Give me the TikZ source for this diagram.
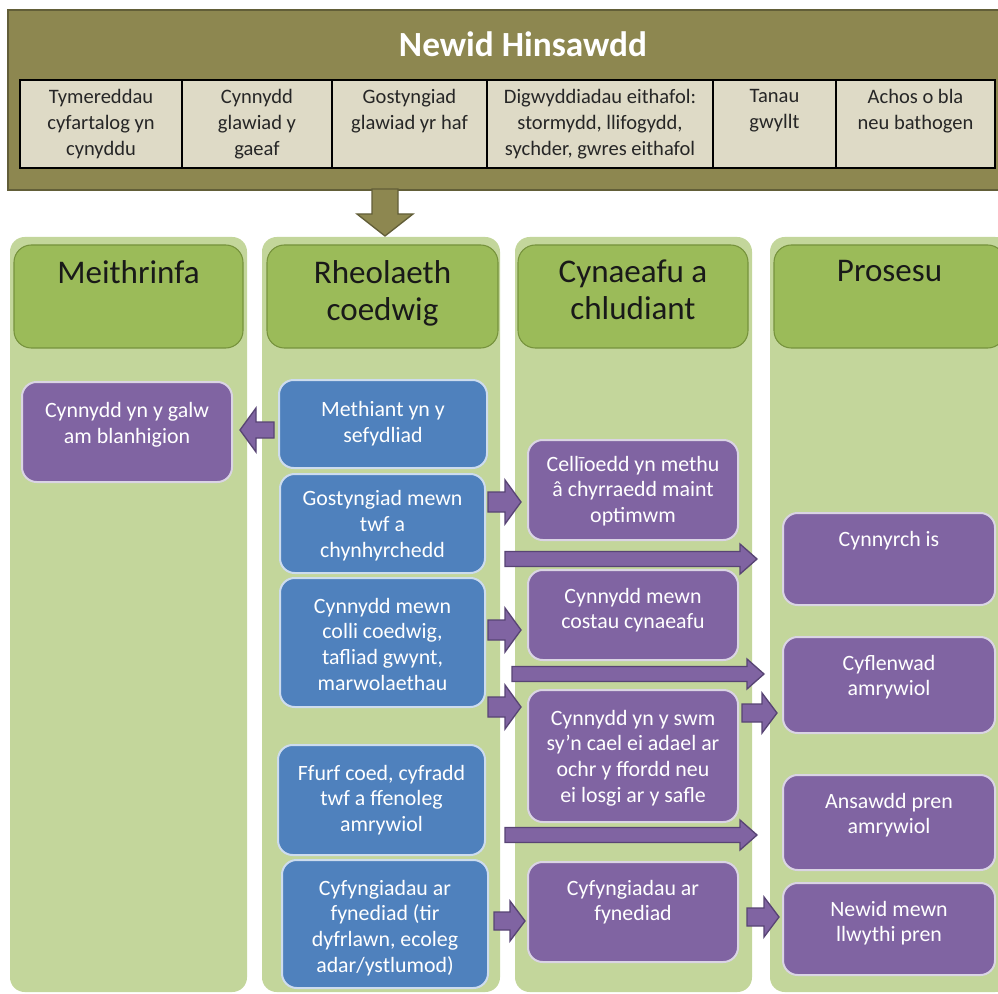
\documentclass[tikz,border=0pt]{standalone}
\usepackage{fontspec}
\setmainfont{Carlito}
\usepackage{xcolor}
\usepackage{tikz}
\usetikzlibrary{positioning,calc}

\definecolor{climateolive}{RGB}{141,135,80}
\definecolor{oliveedge}{RGB}{98,94,56}
\definecolor{cellbg}{RGB}{222,218,198}
\definecolor{lanebg}{RGB}{195,214,155}
\definecolor{headgreen}{RGB}{155,187,89}
\definecolor{headedge}{RGB}{118,146,60}
\definecolor{bluefill}{RGB}{79,129,189}
\definecolor{blueedge}{RGB}{205,220,238}
\definecolor{purplefill}{RGB}{128,100,162}
\definecolor{purpleedge}{RGB}{218,212,228}
\definecolor{arrowedge}{RGB}{88,68,116}

\newcommand{\cellfont}{\fontsize{15.4}{19.3}\selectfont}
\newcommand{\innerfont}{\fontsize{16.4}{19.3}\selectfont}
\newcommand{\lanefont}{\fontsize{24.8}{27.75}\selectfont}
\newcommand{\bannerfont}{\fontsize{26.5}{30}\selectfont\bfseries}

\begin{document}
\begin{tikzpicture}[x=0.75pt,y=0.75pt,yscale=-1,xscale=1,
  cellbox/.style={draw=black, line width=1.4pt, fill=cellbg, inner sep=0pt, minimum height=66pt},
  celltext/.style={inner sep=0pt, align=center, font=\cellfont, text=black!85},
  lane/.style={fill=lanebg, draw=none, rounded corners=11pt},
  lanehead/.style={fill=headgreen, draw=headedge, line width=0.8pt, rounded corners=13pt, inner sep=0pt, minimum height=77.25pt},
  lanetext/.style={inner sep=0pt, align=center, font=\lanefont, text=black!90},
  bluebox/.style={fill=bluefill, draw=blueedge, line width=1.5pt, rounded corners=11pt, inner sep=0pt},
  purplebox/.style={fill=purplefill, draw=purpleedge, line width=1.5pt, rounded corners=11pt, inner sep=0pt},
  boxtext/.style={inner sep=0pt, align=center, font=\innerfont, text=white},
  fatarrow/.style={fill=purplefill, draw=arrowedge, line width=1pt, line join=miter},
  hfat/.style n args={3}{to path={
    ($(\tikztostart)+(0,#1)$) -- ($(\tikztotarget)+(#3,#1)$) -- ($(\tikztotarget)+(#3,#2)$) -- (\tikztotarget)
    -- ($(\tikztotarget)+(#3,-#2)$) -- ($(\tikztotarget)+(#3,-#1)$) -- ($(\tikztostart)+(0,-#1)$) -- cycle}},
  vfat/.style n args={3}{to path={
    ($(\tikztostart)+(#1,0)$) -- ($(\tikztotarget)+(#1,-#3)$) -- ($(\tikztotarget)+(#2,-#3)$) -- (\tikztotarget)
    -- ($(\tikztotarget)+(-#2,-#3)$) -- ($(\tikztotarget)+(-#1,-#3)$) -- ($(\tikztostart)+(-#1,0)$) -- cycle}}
]
\useasboundingbox (0,0) rectangle (998,994);

%Shape: Rectangle [banner]
\draw [fill=climateolive, draw=oliveedge, line width=1.5pt] (8,10) rectangle (1006,190) ;
% Text Node
\node [text=white, font=\bannerfont, inner sep=0pt] (banner) at (523,44) {Newid Hinsawdd};

%Cells of the banner
\node [cellbox, minimum width=121.5pt] (k1) at (101,124) {};
\node [cellbox, minimum width=112.5pt] (k2) at (257,124) {};
\node [cellbox, minimum width=116.25pt] (k3) at (409.5,124) {};
\node [cellbox, minimum width=169.5pt] (k4) at (600,124) {};
\node [cellbox, minimum width=92.25pt] (k5) at (774.5,124) {};
\node [cellbox, minimum width=119.25pt] (k6) at (915.5,124) {};
% Text Node
\node [celltext, below=7.5pt of k1.north] (k1t) {Tymereddau\\cyfartalog yn\\cynyddu};
\node [celltext, below=7.5pt of k2.north] (k2t) {Cynnydd\\glawiad y\\gaeaf};
\node [celltext, below=7.5pt of k3.north] (k3t) {Gostyngiad\\glawiad yr haf};
\node [celltext, below=7.5pt of k4.north] (k4t) {Digwyddiadau eithafol:\\stormydd, llifogydd,\\sychder, gwres eithafol};
\node [celltext, below=7.5pt of k5.north] (k5t) {Tanau\\gwyllt};
\node [celltext, below=7.5pt of k6.north] (k6t) {Achos o bla\\neu bathogen};

%Down arrow from the banner
\coordinate (dtop) at (385,189);
\coordinate (dtip) at (385,236);
\draw [fill=climateolive, draw=oliveedge, line width=1pt, vfat={13}{28}{22}] (dtop) to (dtip) ;

%Shape: lanes
\draw [lane] (10,237) rectangle (247,992) ;
\draw [lane] (262,237) rectangle (500,992) ;
\draw [lane] (515,237) rectangle (752,992) ;
\draw [lane] (770,237) rectangle (1010,992) ;

%Lane headers
\node [lanehead, minimum width=171.75pt] (nursery) at (128.5,296.5) {};
\node [lanehead, minimum width=173.25pt] (forest) at (382.5,296.5) {};
\node [lanehead, minimum width=172.5pt] (harvest) at (633,296.5) {};
\node [lanehead, minimum width=173.25pt] (process) at (889.5,296.5) {};
% Text Node
\node [lanetext, below=11.5pt of nursery.north] (nurseryt) {Meithrinfa};
\node [lanetext, below=11.5pt of forest.north] (forestt) {Rheolaeth\\coedwig};
\node [lanetext, below=11.5pt of harvest.north] (harvestt) {Cynaeafu a\\chludiant};
\node [lanetext, below=11.5pt of process.north] (processt) {Prosesu};

%Meithrinfa
\node [purplebox, minimum width=157.5pt, minimum height=75pt] (plants) at (127,432) {};
\node [boxtext, below=16pt of plants.north] (plantst) {Cynnydd yn y galw\\am blanhigion};

%Rheolaeth coedwig
\node [bluebox, minimum width=156pt, minimum height=66pt] (fail) at (383,424) {};
\node [bluebox, minimum width=153.75pt, minimum height=74.25pt] (growth) at (382.5,523.5) {};
\node [bluebox, minimum width=153.75pt, minimum height=96.75pt] (loss) at (382.5,642.5) {};
\node [bluebox, minimum width=155.25pt, minimum height=82.5pt] (form) at (381.5,800) {};
\node [bluebox, minimum width=154.5pt, minimum height=96pt] (access) at (385,924) {};
% Text Node
\node [boxtext, below=16.5pt of fail.north] (failt) {Methiant yn y\\sefydliad};
\node [boxtext, below=13pt of growth.north] (growtht) {Gostyngiad mewn\\twf a\\chynhyrchedd};
\node [boxtext, below=15.5pt of loss.north] (losst) {Cynnydd mewn\\colli coedwig,\\tafliad gwynt,\\marwolaethau};
\node [boxtext, below=15.5pt of form.north] (formt) {Ffurf coed, cyfradd\\twf a ffenoleg\\amrywiol};
\node [boxtext, below=15.5pt of access.north] (accesst) {Cyfyngiadau ar\\fynediad (tir\\dyfrlawn, ecoleg\\adar/ystlumod)};

%Cynaeafu a chludiant
\node [purplebox, minimum width=157.5pt, minimum height=75pt] (size) at (633,490) {};
\node [purplebox, minimum width=157.5pt, minimum height=67.5pt] (cost) at (633,615) {};
\node [purplebox, minimum width=157.5pt, minimum height=99pt] (waste) at (633,756) {};
\node [purplebox, minimum width=157.5pt, minimum height=75pt] (reach) at (633,912) {};
% Text Node
\node [boxtext, below=12.5pt of size.north] (sizet) {Cellīoedd yn methu\\â chyrraedd maint\\optimwm};
\node [boxtext, below=14pt of cost.north] (costt) {Cynnydd mewn\\costau cynaeafu};
\node [boxtext, below=15.5pt of waste.north] (wastet) {Cynnydd yn y swm\\sy'n cael ei adael ar\\ochr y ffordd neu\\ei losgi ar y safle};
\node [boxtext, below=14pt of reach.north] (reacht) {Cyfyngiadau ar\\fynediad};

%Prosesu
\node [purplebox, minimum width=159pt, minimum height=69pt] (yield) at (889,559) {};
\node [purplebox, minimum width=159pt, minimum height=72pt] (supply) at (889,685) {};
\node [purplebox, minimum width=159pt, minimum height=71.25pt] (quality) at (889,822.5) {};
\node [purplebox, minimum width=159pt, minimum height=69pt] (loads) at (889,929) {};
% Text Node
\node [boxtext, below=14pt of yield.north] (yieldt) {Cynnyrch is};
\node [boxtext, below=14pt of supply.north] (supplyt) {Cyflenwad\\amrywiol};
\node [boxtext, below=14pt of quality.north] (qualityt) {Ansawdd pren\\amrywiol};
\node [boxtext, below=14pt of loads.north] (loadst) {Newid mewn\\llwythi pren};

%Arrow ends
\coordinate (e0s) at (274,430);  \coordinate (e0e) at (240,430);
\coordinate (e1s) at (488,502);  \coordinate (e1e) at (521,502);
\coordinate (e2s) at (488,630);  \coordinate (e2e) at (521,630);
\coordinate (e3s) at (488,707);  \coordinate (e3e) at (521,707);
\coordinate (e4s) at (494,921);  \coordinate (e4e) at (525,921);
\coordinate (l1s) at (505,559);  \coordinate (l1e) at (757,559);
\coordinate (l2s) at (512,674);  \coordinate (l2e) at (764,674);
\coordinate (l3s) at (505,835);  \coordinate (l3e) at (757,835);
\coordinate (p1s) at (742,713);  \coordinate (p1e) at (777,713);
\coordinate (p2s) at (747,917);  \coordinate (p2e) at (779,917);

%Block arrows
\draw [fatarrow, hfat={8}{22}{16}] (e0s) to (e0e) ;
\draw [fatarrow, hfat={10}{22}{-16}] (e1s) to (e1e) ;
\draw [fatarrow, hfat={10}{22}{-16}] (e2s) to (e2e) ;
\draw [fatarrow, hfat={10}{22}{-16}] (e3s) to (e3e) ;
\draw [fatarrow, hfat={9}{20}{-15}] (e4s) to (e4e) ;
\draw [fatarrow, hfat={7.5}{15}{-17}] (l1s) to (l1e) ;
\draw [fatarrow, hfat={7.5}{15}{-17}] (l2s) to (l2e) ;
\draw [fatarrow, hfat={7.5}{15}{-17}] (l3s) to (l3e) ;
\draw [fatarrow, hfat={9}{20}{-15}] (p1s) to (p1e) ;
\draw [fatarrow, hfat={9}{20}{-15}] (p2s) to (p2e) ;

\end{tikzpicture}
\end{document}
